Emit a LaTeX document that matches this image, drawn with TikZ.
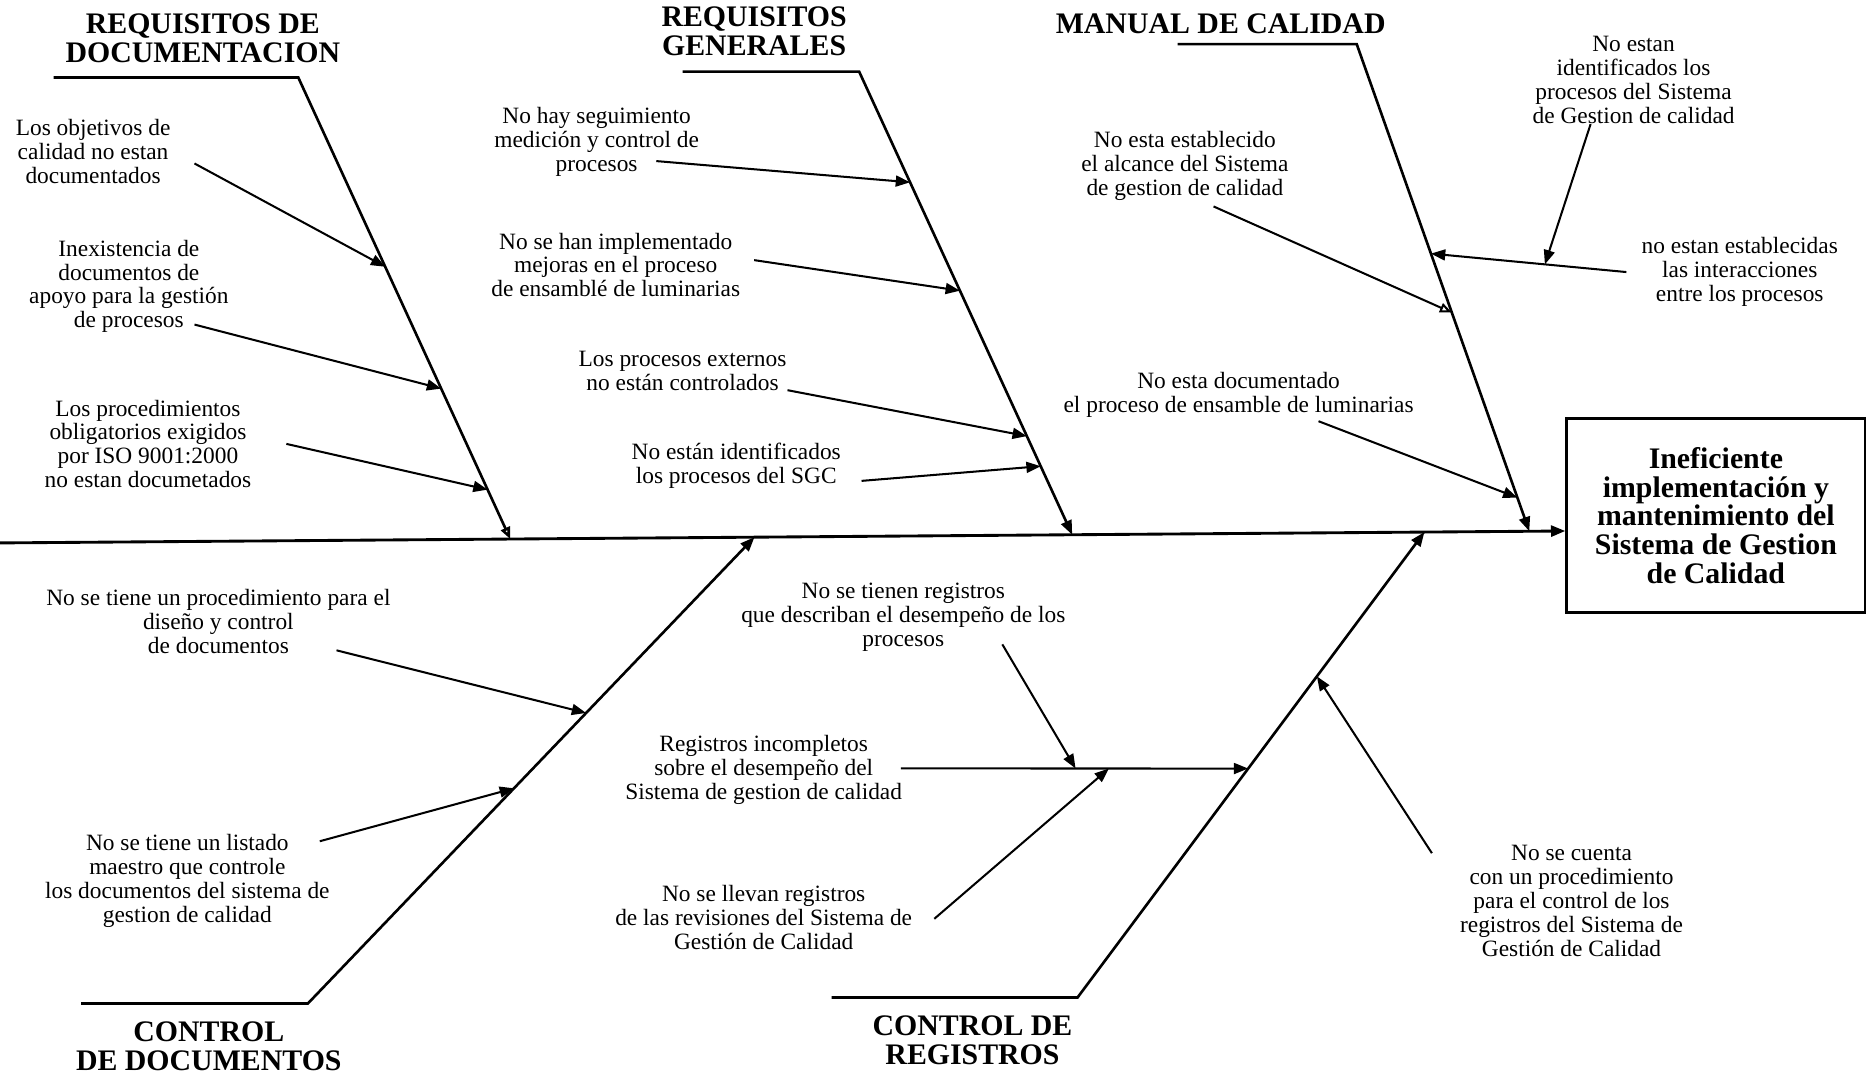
\documentclass[tikz,border=0pt]{standalone}
\usepackage{fontspec}
\setmainfont{Liberation Serif}
\usetikzlibrary{arrows.meta,calc}

\begin{document}
\begin{tikzpicture}[x=0.5pt,y=-0.5pt,
  bone/.style={line width=1.1pt},
  tipfill/.style={-{Triangle[length=6pt,width=4.6pt]}},
  tipopen/.style={-{Triangle[open,length=5pt,width=4pt]}},
  cause/.style={line width=0.85pt,tipfill},
  causetext/.style={align=center,inner sep=0pt,font=\fontsize{9.8pt}{10pt}\selectfont},
  boneTitle/.style={align=center,inner sep=0pt,font=\fontsize{12.5pt}{12pt}\selectfont\bfseries},
  effectbox/.style={draw,line width=1.2pt,align=center,minimum width=125pt,minimum height=81pt,
    font=\fontsize{12.5pt}{12pt}\selectfont\bfseries}
]
% canvas
\fill[white] (0,0) rectangle (1568,904);
\useasboundingbox (0,0) rectangle (1568,904);

% effect and spine
\node[effectbox] (effect) at (1438,432) {Ineficiente\\implementación y\\mantenimiento del\\Sistema de Gestion\\de Calidad};
\coordinate (sL) at (0,455);
\coordinate (sR) at ($(effect.west)+(0,13)$);
\draw[line width=1.2pt,tipfill] (sL) -- (sR);

% bone titles
\node[boneTitle] (h1) at (170,32) {REQUISITOS DE\\DOCUMENTACION};
\node[boneTitle] (h2) at (632,26) {REQUISITOS\\GENERALES};
\node[boneTitle] (h3) at (1023,20) {MANUAL DE CALIDAD};
\node[boneTitle] (h4) at (175,877) {CONTROL\\DE DOCUMENTOS};
\node[boneTitle] (h5) at (815,872) {CONTROL DE\\REGISTROS};

% bones
\coordinate (b1s) at (45,65);   \coordinate (b1k) at (250,65);
\coordinate (b1e) at ($(sL)!0.326!(sR)$);
\coordinate (b2s) at (572,60);  \coordinate (b2k) at (720,60);
\coordinate (b2e) at ($(sL)!0.685!(sR)$);
\coordinate (b3s) at (987,37);  \coordinate (b3k) at (1137,37);
\coordinate (b3e) at ($(sL)!0.977!(sR)$);
\coordinate (b4s) at (68,841);  \coordinate (b4k) at (258,841);
\coordinate (b4e) at ($(sL)!0.482!(sR)$);
\coordinate (b5s) at (697,836); \coordinate (b5k) at (903,836);
\coordinate (b5e) at ($(sL)!0.910!(sR)$);

\draw[bone,tipopen] (b1s) -- (b1k) -- (b1e);
\draw[bone,tipfill] (b2s) -- (b2k) -- (b2e);
\draw[bone,tipfill] (b3s) -- (b3k) -- (b3e);
\draw[bone,tipfill] (b4s) -- (b4k) -- (b4e);
\draw[bone,tipfill] (b5s) -- (b5k) -- (b5e);

% causes: requisitos de documentacion
\node[causetext] (c1) at (78,127) {Los objetivos de\\calidad no estan\\documentados};
\node[causetext] (c2) at (108,240) {Inexistencia de\\documentos de\\apoyo para la gestión\\de procesos};
\node[causetext] (c3) at (124,372) {Los procedimientos\\obligatorios exigidos\\por ISO 9001:2000\\no estan documetados};
\coordinate (a1) at (163,137);
\coordinate (a2) at (163,272);
\coordinate (a3) at (240,372);
\draw[cause] (a1) -- ($(b1k)!0.41!(b1e)$);
\draw[cause] (a2) -- ($(b1k)!0.674!(b1e)$);
\draw[cause] (a3) -- ($(b1k)!0.893!(b1e)$);

% causes: requisitos generales
\node[causetext] (c4) at (500,119) {No hay seguimiento\\medición y control de\\procesos};
\node[causetext] (c5) at (516,222) {No se han implementado\\mejoras en el proceso\\de ensamblé de luminarias};
\node[causetext] (c6) at (572,311) {Los procesos externos\\no están controlados};
\node[causetext] (c7) at (617,390) {No están identificados\\los procesos del SGC};
\coordinate (a4) at (550,135);
\coordinate (a5) at (632,218);
\coordinate (a6) at (660,327);
\coordinate (a7) at (722,403);
\draw[cause] (a4) -- ($(b2k)!0.239!(b2e)$);
\draw[cause] (a5) -- ($(b2k)!0.473!(b2e)$);
\draw[cause] (a6) -- ($(b2k)!0.787!(b2e)$);
\draw[cause] (a7) -- ($(b2k)!0.852!(b2e)$);

% causes: manual de calidad
\node[causetext] (c8) at (993,139) {No esta establecido\\el alcance del Sistema\\de gestion de calidad};
\node[causetext] (c9) at (1038,331) {No esta documentado\\el proceso de ensamble de luminarias};
\node[causetext] (c10) at (1369,67) {No estan\\identificados los\\procesos del Sistema\\de Gestion de calidad};
\node[causetext] (c11) at (1458,228) {no estan establecidas\\las interacciones\\entre los procesos};
\coordinate (a8) at (1017,173);
\coordinate (a9) at (1105,353);
\coordinate (a10) at (1333,104);
\coordinate (a11) at (1363,228);
\coordinate (i11) at ($(b3k)!0.43!(b3e)$);
\draw[line width=0.85pt,tipopen] (a8) -- ($(b3k)!0.551!(b3e)$);
\draw[cause] (a9) -- ($(b3k)!0.931!(b3e)$);
\draw[cause] (a11) -- (i11);
\draw[cause] (a10) -- ($(a11)!0.417!(i11)$);

% causes: control de documentos
\node[causetext] (c12) at (183,521) {No se tiene un procedimiento para el\\diseño y control\\de documentos};
\node[causetext] (c13) at (157,738) {No se tiene un listado\\maestro que controle\\los documentos del sistema de\\gestion de calidad};
\coordinate (a12) at (282,545);
\coordinate (a13) at (268,705);
\draw[cause] (a12) -- ($(b4k)!0.623!(b4e)$);
\draw[cause] (a13) -- ($(b4k)!0.4615!(b4e)$);

% causes: control de registros
\node[causetext] (c14) at (757,517) {No se tienen registros\\que describan el desempeño de los\\procesos};
\node[causetext] (c15) at (640,645) {Registros incompletos\\sobre el desempeño del\\Sistema de gestion de calidad};
\node[causetext] (c16) at (640,769) {No se llevan registros\\de las revisiones del Sistema de\\Gestión de Calidad};
\node[causetext] (c17) at (1317,755) {No se cuenta\\con un procedimiento\\para el control de los\\registros del Sistema de\\Gestión de Calidad};
\coordinate (a15) at (755,644);
\coordinate (r15) at ($(b5k)!0.492!(b5e)$);
\coordinate (a14) at (840,540);
\coordinate (a16) at (783,770);
\coordinate (a17) at (1200,715);
\draw[cause] (a15) -- (r15);
\draw[cause] (a14) -- ($(a15)!0.503!(r15)$);
\draw[cause] (a16) -- ($(a15)!0.599!(r15)$);
\draw[cause] (a17) -- ($(b5k)!0.69!(b5e)$);
\end{tikzpicture}
\end{document}
